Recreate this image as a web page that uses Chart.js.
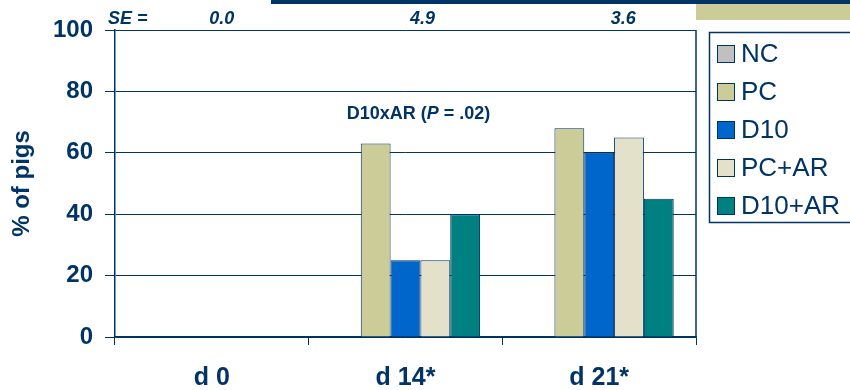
<!DOCTYPE html>
<html>
<head>
<meta charset="utf-8">
<script src="https://cdn.jsdelivr.net/npm/chart.js@4/dist/chart.umd.min.js"></script>
<style>
  html, body { margin: 0; padding: 0; background: #ffffff; }
  #wrap { width: 850px; height: 390px; position: relative; }
</style>
</head>
<body>
<div id="wrap"><canvas id="c" width="850" height="390"></canvas></div>
<script>
// Days sampled
const categories = ['d 0', 'd 14*', 'd 21*'];

// Percentage of pigs per treatment
const ncValues    = [0, 0, 0];
const pcValues    = [0, 63, 68];
const d10Values   = [0, 25, 60];
const pcArValues  = [0, 25, 65];
const d10ArValues = [0, 40, 45];

const seriesNames = ['NC', 'PC', 'D10', 'PC+AR', 'D10+AR'];

// Standard errors printed above each day
const seLabels = ['0.0', '4.9', '3.6'];
const seTitle = 'SE =';

// Interaction note
const noteParts = ['D10xAR (', 'P', ' = .02)'];
const noteValue = 71;

const NAVY = '#003366';
const FONT = '"Liberation Sans", Arial, sans-serif';
const colors = ['#C0C0C0', '#CCCC99', '#0066CC', '#E3E1C9', '#008080'];

const datasets = [ncValues, pcValues, d10Values, pcArValues, d10ArValues].map((vals, i) => ({
  label: seriesNames[i],
  data: vals,
  backgroundColor: colors[i],
  borderColor: NAVY,
  borderWidth: 1,
  borderSkipped: 'bottom',
  categoryPercentage: 0.77,
  barPercentage: 1.0
}));

const decor = {
  id: 'decor',
  beforeDraw(chart) {
    const ctx = chart.ctx;
    ctx.save();
    ctx.fillStyle = NAVY;
    ctx.fillRect(271, 0, 579, 4);
    ctx.fillStyle = '#CCCC99';
    ctx.fillRect(696, 4, 154, 16);
    ctx.restore();
  },
  afterDraw(chart) {
    const ctx = chart.ctx;
    const a = chart.chartArea;
    const x = chart.scales.x;
    const y = chart.scales.y;
    ctx.save();

    // right frame edge
    ctx.strokeStyle = NAVY;
    ctx.lineWidth = 1.5;
    ctx.beginPath();
    ctx.moveTo(a.right, a.top);
    ctx.lineTo(a.right, a.bottom);
    ctx.stroke();

    // SE row
    ctx.fillStyle = NAVY;
    ctx.font = 'italic bold 18px ' + FONT;
    ctx.textBaseline = 'alphabetic';
    ctx.textAlign = 'left';
    ctx.fillText(seTitle, 108, 24);
    ctx.textAlign = 'center';
    seLabels.forEach((s, i) => {
      ctx.fillText(s, x.getPixelForValue(i) + 10 + 7 * i, 24);
    });

    // interaction note
    ctx.font = 'bold 18px ' + FONT;
    const w0 = ctx.measureText(noteParts[0]).width;
    ctx.font = 'italic bold 18px ' + FONT;
    const w1 = ctx.measureText(noteParts[1]).width;
    ctx.font = 'bold 18px ' + FONT;
    const w2 = ctx.measureText(noteParts[2]).width;
    const total = w0 + w1 + w2;
    let nx = x.getPixelForValue(1) + 13 - total / 2;
    const ny = y.getPixelForValue(noteValue);
    ctx.textAlign = 'left';
    ctx.fillText(noteParts[0], nx, ny);
    ctx.font = 'italic bold 18px ' + FONT;
    ctx.fillText(noteParts[1], nx + w0, ny);
    ctx.font = 'bold 18px ' + FONT;
    ctx.fillText(noteParts[2], nx + w0 + w1, ny);

    // legend
    const lx = 709, ly = 32;
    ctx.lineWidth = 1.5;
    ctx.strokeStyle = NAVY;
    ctx.strokeRect(lx + 0.5, ly + 0.5, 200, 190);
    ctx.font = '26px ' + FONT;
    ctx.textBaseline = 'middle';
    chart.data.datasets.forEach((ds, i) => {
      const cy = 54 + 38 * i;
      ctx.fillStyle = ds.backgroundColor;
      ctx.fillRect(717, cy - 9, 18, 18);
      ctx.lineWidth = 1;
      ctx.strokeStyle = NAVY;
      ctx.strokeRect(717.5, cy - 8.5, 17, 17);
      ctx.fillStyle = NAVY;
      ctx.fillText(ds.label, 741, cy + 1);
    });
    ctx.restore();
  }
};

new Chart(document.getElementById('c'), {
  type: 'bar',
  data: { labels: categories, datasets },
  options: {
    responsive: false,
    animation: false,
    layout: { padding: { top: 30, right: 154, left: 0, bottom: 0 } },
    plugins: { legend: { display: false }, tooltip: { enabled: false } },
    scales: {
      x: {
        afterFit(s) { s.height = 53; },
        grid: { drawOnChartArea: false, drawTicks: true, tickLength: 8, color: NAVY, lineWidth: 1 },
        border: { display: true, color: NAVY, width: 1.5 },
        ticks: { color: NAVY, font: { family: FONT, size: 25, weight: 'bold' }, padding: 18 }
      },
      y: {
        min: 0, max: 100,
        afterFit(s) { s.width = 115; },
        grid: { color: NAVY, lineWidth: 1, drawTicks: true, tickLength: 10 },
        border: { display: true, color: NAVY, width: 1.5 },
        ticks: { stepSize: 20, color: NAVY, font: { family: FONT, size: 24, weight: 'bold' }, padding: 12 },
        title: { display: true, text: '% of pigs', color: NAVY, font: { family: FONT, size: 24, weight: 'bold' }, padding: { top: 8, bottom: 4 } }
      }
    }
  },
  plugins: [decor]
});
</script>
</body>
</html>
